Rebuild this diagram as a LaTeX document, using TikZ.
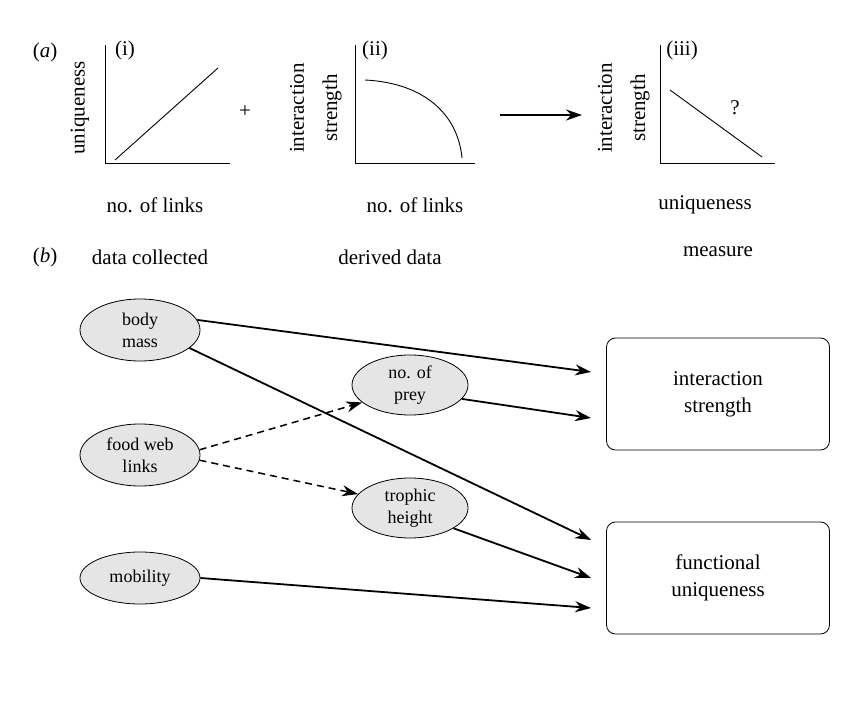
\documentclass[tikz,border=0pt]{standalone}
\usepackage{fontspec}
\setmainfont{Liberation Serif}
\usetikzlibrary{arrows.meta,shapes.geometric}
\begin{document}
\begin{tikzpicture}[x=1pt,y=-1pt,
  txt/.style={font=\fontsize{21}{24}\selectfont,inner sep=0},
  ax/.style={line width=0.9pt},
  ell/.style={ellipse,draw,line width=0.8pt,fill=gray!20,minimum width=120pt,minimum height=62pt,align=center,font=\fontsize{18}{22}\selectfont,inner sep=0},
  box/.style={draw,rounded corners=9pt,line width=0.8pt,minimum width=223pt,minimum height=112pt,align=center,font=\fontsize{21}{27}\selectfont},
  arr/.style={line width=1.8pt,-{Stealth[length=16pt,width=11pt]}},
  darr/.style={arr,line width=1.5pt,dash pattern=on 7pt off 5pt}]
\useasboundingbox (0,0) rectangle (860,711);
% panel a
\node[txt] (la) at (45,52) {(\textit{a})};
% (i)
\draw[ax] (105,45) -- (105,163) -- (230,163);
\draw[ax] (115,160) -- (218,68);
\node[txt] (li) at (125,50) {(i)};
\node[txt,rotate=90] (u1) at (80,108) {uniqueness};
\node[txt] (n1) at (155,205) {no. of links};
\node[txt] (plus) at (245,112) {+};
% (ii)
\draw[ax] (355,45) -- (355,163) -- (475,163);
\draw[ax] (365,80) .. controls (425,83) and (458,115) .. (462,158);
\node[txt] (lii) at (375,50) {(ii)};
\node[txt,rotate=90] (is2) at (297,108) {interaction};
\node[txt,rotate=90] (s2) at (332,108) {strength};
\node[txt] (n2) at (415,205) {no. of links};
\coordinate (a1) at (500,115);
\coordinate (a2) at (582,115);
\draw[arr,line width=2pt] (a1) -- (a2);
% (iii)
\draw[ax] (660,45) -- (660,163) -- (775,163);
\draw[ax] (670,90) -- (762,157);
\node[txt] (q) at (735,108) {?};
\node[txt] (liii) at (682,50) {(iii)};
\node[txt,rotate=90] (is3) at (605,108) {interaction};
\node[txt,rotate=90] (s3) at (640,108) {strength};
\node[txt] (u3) at (705,205) {uniqueness};
% panel b headings
\node[txt] (lb) at (45,257) {(\textit{b})};
\node[txt] (dc) at (150,257) {data collected};
\node[txt] (dd) at (390,257) {derived data};
\node[txt] (me) at (718,252) {measure};
% nodes
\node[ell] (bm) at (140,330) {body\\mass};
\node[ell] (fw) at (140,455) {food web\\links};
\node[ell,minimum height=52pt] (mo) at (140,578) {mobility};
\node[ell,minimum width=116pt,minimum height=60pt] (np) at (410,385) {no. of\\prey};
\node[ell,minimum width=116pt,minimum height=60pt] (th) at (410,508) {trophic\\height};
\node[box] (is) at (718,394) {interaction\\strength};
\node[box] (fu) at (718,578) {functional\\uniqueness};
% connectors
\draw[arr] (bm.10) -- ([yshift=22pt,xshift=-15pt]is.west);
\draw[arr] (bm.-20) -- ([yshift=38pt,xshift=-15pt]fu.west);
\draw[arr] (np.-15) -- ([yshift=-24pt,xshift=-15pt]is.west);
\draw[arr] (th.-25) -- ([xshift=-15pt]fu.west);
\draw[arr] (mo.east) -- ([yshift=-30pt,xshift=-15pt]fu.west);
\draw[darr] (fw.5) -- (np.200);
\draw[darr] (fw.-5) -- (th.165);
\end{tikzpicture}
\end{document}
